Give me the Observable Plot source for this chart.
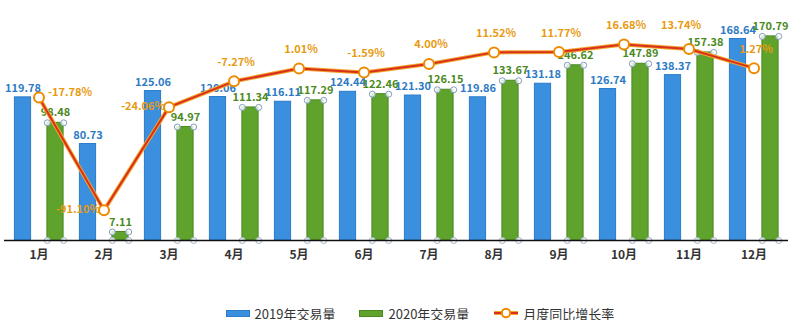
<!DOCTYPE html>
<html><head><meta charset="utf-8">
<script src="https://cdn.jsdelivr.net/npm/d3@7"></script>
<script src="https://cdn.jsdelivr.net/npm/@observablehq/plot@0.6"></script>
<style>
body{margin:0;background:#fff;font-family:"Noto Sans CJK SC","Noto Sans",sans-serif;}
#legend{display:flex;justify-content:center;align-items:center;margin-top:26px;padding-left:40px;font-size:13px;color:#333;height:14px;}
#legend .it{display:flex;align-items:center;margin:0 12px;}
#legend .sw{width:24px;height:7px;margin-right:5px;}
</style></head><body>
<div id="chart"></div>
<div id="legend"></div>
<script>
const months = ["1月","2月","3月","4月","5月","6月","7月","8月","9月","10月","11月","12月"];
const vol2019 = [119.78, 80.73, 125.06, 120.06, 116.11, 124.44, 121.30, 119.86, 131.18, 126.74, 138.37, 168.64];
const vol2020 = [98.48, 7.11, 94.97, 111.34, 117.29, 122.46, 126.15, 133.67, 146.62, 147.89, 157.38, 170.79];
const growth = [-17.78, -91.10, -24.06, -7.27, 1.01, -1.59, 4.00, 11.52, 11.77, 16.68, 13.74, 1.27];
const seriesNames = ["2019年交易量", "2020年交易量", "月度同比增长率"];

const blue = "#3a8fdf", green = "#5fa22c";
const rows = months.map((m, i) => ({month: m, v19: vol2019[i], v20: vol2020[i], g: growth[i], i}));
// secondary (percent) axis mapped onto the volume axis
const gLo = -110.7, gK = 1.288;
const gy = d => (d.g - gLo) * gK;
const pct = d => d.g.toFixed(2) + "%";
const lblStyle = {fill: "#e89a10", fontSize: 11, fontWeight: "bold"};

const chart = Plot.plot({
  width: 800, height: 280,
  marginLeft: 4, marginRight: 12, marginTop: 1, marginBottom: 40,
  style: {fontFamily: '"Noto Sans CJK SC","Noto Sans",sans-serif', background: "white"},
  x: {type: "band", domain: months, padding: 0},
  y: {domain: [0, 200], axis: null},
  marks: [
    Plot.barY(rows, {x: "month", y: "v19", fill: blue, stroke: "#2b7bc9", strokeWidth: 1, insetLeft: 24.4, insetRight: 24.4, dx: -16}),
    Plot.barY(rows, {x: "month", y: "v20", fill: green, stroke: "#4a8a1e", strokeWidth: 1, insetLeft: 24.4, insetRight: 24.4, dx: 16.5}),
    // selection handles at green bar corners
    ...[8.3, 24.7].flatMap(dx => [
      Plot.dot(rows, {x: "month", y: "v20", dx, r: 3, fill: "white", fillOpacity: 0.8, stroke: "#7f9cbd", strokeWidth: 1}),
      Plot.dot(rows, {x: "month", y: 0, dx, r: 3, fill: "white", fillOpacity: 0.8, stroke: "#9fb4cc", strokeWidth: 1})
    ]),
    Plot.ruleY([0], {stroke: "#111", strokeWidth: 1.5}),
    Plot.text(rows, {x: "month", y: "v19", text: d => d.v19.toFixed(2), dx: -16, dy: -9, fill: "#2e7bc4", fontSize: 11, fontWeight: "bold"}),
    Plot.text(rows, {x: "month", y: "v20", text: d => d.v20.toFixed(2), dx: 16.5, dy: -10, fill: "#4b8a22", fontSize: 11, fontWeight: "bold"}),
    Plot.line(rows, {x: "month", y: gy, stroke: "#f2a52a", strokeWidth: 4}),
    Plot.line(rows, {x: "month", y: gy, stroke: "#d8301c", strokeWidth: 2}),
    Plot.dot(rows, {x: "month", y: gy, r: 5, fill: "white", stroke: "#ee8a00", strokeWidth: 2}),
    Plot.text(rows.filter(d => d.i === 0), {x: "month", y: gy, text: pct, dx: 31, dy: -5, ...lblStyle}),
    Plot.text(rows.filter(d => d.i === 1 || d.i === 2), {x: "month", y: gy, text: pct, dx: -26, dy: -1, ...lblStyle}),
    Plot.text(rows.filter(d => d.i >= 3 && d.i !== 10), {x: "month", y: gy, text: pct, dx: 2, dy: -19, ...lblStyle}),
    Plot.text(rows.filter(d => d.i === 10), {x: "month", y: gy, text: pct, dx: -8, dy: -23, ...lblStyle}),
    Plot.axisX({tickSize: 0, tickPadding: 10, fontSize: 12, fontWeight: "bold", color: "#333", label: null})
  ]
});
document.getElementById("chart").append(chart);

const lg = document.getElementById("legend");
const swatches = [
  `<span class="sw" style="background:${blue};border:1px solid #2b7bc9;box-sizing:border-box"></span>`,
  `<span class="sw" style="background:${green};border:1px solid #4a8a1e;box-sizing:border-box"></span>`,
  `<svg width="26" height="12" style="margin-right:4px"><line x1="1" y1="6" x2="25" y2="6" stroke="#f2a52a" stroke-width="4"/><line x1="1" y1="6" x2="25" y2="6" stroke="#d8301c" stroke-width="2"/><circle cx="13" cy="6" r="4.2" fill="white" stroke="#ee8a00" stroke-width="2"/></svg>`
];
seriesNames.forEach((n, i) => {
  const it = document.createElement("span");
  it.className = "it";
  it.innerHTML = swatches[i] + `<span>${n}</span>`;
  lg.append(it);
});
</script>
</body></html>
